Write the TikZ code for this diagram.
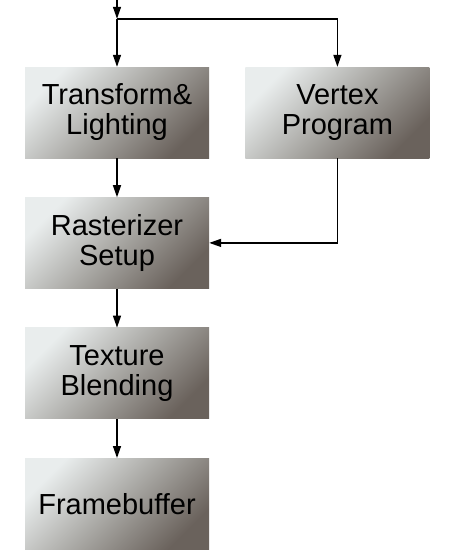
\documentclass[tikz,border=0pt]{standalone}
\usepackage{fontspec}
\setmainfont{Liberation Sans}
\usetikzlibrary{positioning,arrows.meta}

\definecolor{stagelight}{HTML}{E9EDED}
\definecolor{stagemid}{HTML}{A9A8A4}
\definecolor{stagedark}{HTML}{6A625C}

\tikzset{
	stage/.style={shade, left color=stagelight, right color=stagedark, middle color=stagemid,
		shading angle=45, minimum width=184pt, minimum height=91pt, inner sep=0pt,
		align=center, font=\fontsize{29}{30}\selectfont},
	arr/.style={line width=1.4pt, -{Triangle[length=12pt,width=8pt]}}
}

\begin{document}
\begin{tikzpicture}[x=1pt,y=1pt]

	%Page frame, same size as the reference
	\useasboundingbox (0,0) rectangle (451,-560);

	%Left column of stages
	\node[stage] (tl) at (117,-112.5) {Transform\&\\Lighting};
	\node[stage, below=39pt of tl] (rs) {Rasterizer\\Setup};
	\node[stage, below=39pt of rs] (tb) {Texture\\Blending};
	\node[stage, below=39pt of tb] (fb) {Framebuffer};
	
	%Programmable path on the right
	\node[stage, right=36pt of tl] (vx) {Vertex\\Program};

	%Input comes in at the top and splits
	\coordinate (input) at ([yshift=67pt]tl.north);
	\coordinate (split) at ([yshift=48pt]tl.north);
	\draw[arr] (input) -- (split);
	\draw[arr] (split) -- (tl);
	\draw[arr] (split) -| (vx);

	%Flow down the pipeline
	\draw[arr] (tl) -- (rs);
	\draw[arr] (rs) -- (tb);
	\draw[arr] (tb) -- (fb);
	\draw[arr] (vx.south) |- (rs.east);

\end{tikzpicture}
\end{document}
